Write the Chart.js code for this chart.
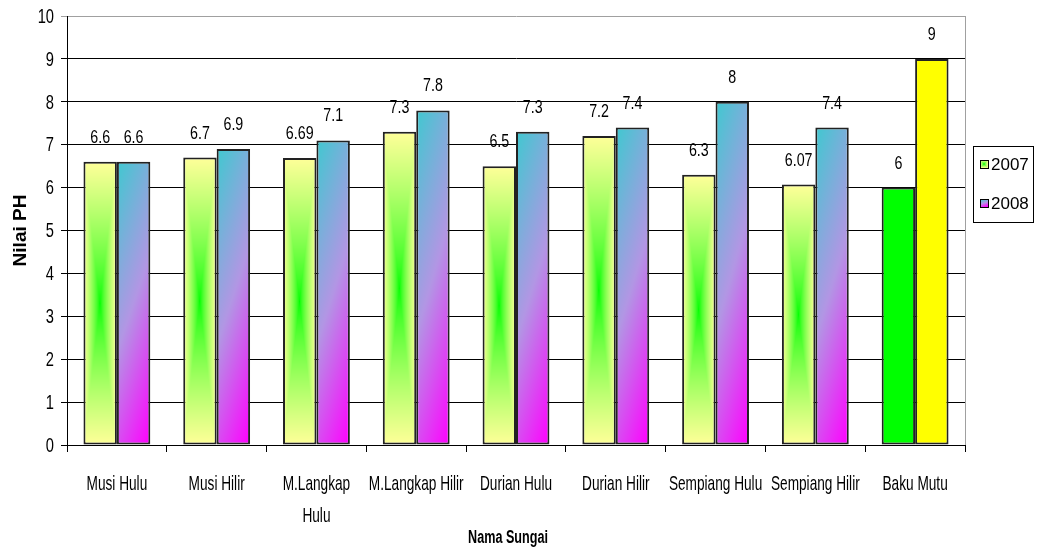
<!DOCTYPE html>
<html>
<head>
<meta charset="utf-8">
<title>Nilai PH Sungai</title>
<script src="https://cdn.jsdelivr.net/npm/chart.js@4.4.1/dist/chart.umd.min.js"></script>
<style>
  html, body { margin: 0; padding: 0; background: #fff; }
  #phChart { display: block; }
</style>
</head>
<body>
<canvas id="phChart" width="1037" height="554"></canvas>
<script>
// ==================== DATA ====================
const rivers = ['Musi Hulu', 'Musi Hilir', ['M.Langkap', 'Hulu'], 'M.Langkap Hilir', 'Durian Hulu',
                'Durian Hilir', 'Sempiang Hulu', 'Sempiang Hilir', 'Baku Mutu'];
const seriesNames = ['2007', '2008'];
const ph2007 = [6.6, 6.7, 6.69, 7.3, 6.5, 7.2, 6.3, 6.07, 6];
const ph2008 = [6.6, 6.9, 7.1, 7.8, 7.3, 7.4, 8, 7.4, 9];
const yTicks = [0, 1, 2, 3, 4, 5, 6, 7, 8, 9, 10];

const BAKU_INDEX = rivers.length - 1;   // the standard ("Baku Mutu") group gets flat colours
const CAT_PCT = 0.67;
const SANS = '"Liberation Sans", Arial, sans-serif';

// ==================== TEXT HELPER ====================
// no narrow face installed, so squeeze the regular one horizontally
function narrowText(c, text, x, y, font, sx, align, baseline) {
    c.save();
    c.translate(x, y);
    c.scale(sx, 1);
    c.font = font;
    c.fillStyle = '#000';
    c.textAlign = align || 'center';
    c.textBaseline = baseline || 'alphabetic';
    c.fillText(text, 0, 0);
    c.restore();
}

// ==================== FILL HELPERS ====================
function mix(a, b, t) {
    return [0, 1, 2].map(i => Math.round(a[i] + (b[i] - a[i]) * t));
}

// 2007: green in the middle fading out to pale yellow towards every edge
function paintCenter(w, h) {
    const green = [0, 255, 0], yellow = [255, 255, 153];
    const c = document.createElement('canvas');
    c.width = w; c.height = h;
    const g = c.getContext('2d');
    const img = g.createImageData(w, h);
    for (let y = 0; y < h; y++) {
        for (let x = 0; x < w; x++) {
            const dx = Math.abs((x + 0.5) - w / 2) / (w / 2);
            const dy = Math.abs((y + 0.5) - h / 2) / (h / 2);
            const t = Math.pow(Math.max(dx, dy), 0.75);
            const col = mix(green, yellow, t);
            const k = (y * w + x) * 4;
            img.data[k] = col[0]; img.data[k + 1] = col[1]; img.data[k + 2] = col[2]; img.data[k + 3] = 255;
        }
    }
    g.putImageData(img, 0, 0);
    return c;
}

// 2008: cyan at the top going to magenta at the bottom right
function paintDiagonal(w, h) {
    const cyan = [64, 200, 208], lilac = [178, 150, 228], magenta = [255, 0, 255];
    const c = document.createElement('canvas');
    c.width = w; c.height = h;
    const g = c.getContext('2d');
    const img = g.createImageData(w, h);
    for (let y = 0; y < h; y++) {
        for (let x = 0; x < w; x++) {
            const t = 0.75 * (y / Math.max(1, h - 1)) + 0.25 * (x / Math.max(1, w - 1));
            const col = t < 0.5 ? mix(cyan, lilac, t / 0.5) : mix(lilac, magenta, (t - 0.5) / 0.5);
            const k = (y * w + x) * 4;
            img.data[k] = col[0]; img.data[k + 1] = col[1]; img.data[k + 2] = col[2]; img.data[k + 3] = 255;
        }
    }
    g.putImageData(img, 0, 0);
    return c;
}

const fillCache = {};
function fillCanvas(kind, w, h) {
    const key = kind + ':' + w + 'x' + h;
    if (!fillCache[key]) fillCache[key] = kind === 'center' ? paintCenter(w, h) : paintDiagonal(w, h);
    return fillCache[key];
}

// rectangle of one bar, worked out from the scales (layout is done before options resolve)
function barBox(ctx) {
    const chart = ctx.chart;
    const xs = chart.scales.x, ys = chart.scales.y;
    if (!chart.chartArea || !xs || !ys) return null;
    const catW = xs.width / rivers.length;
    const barW = catW * CAT_PCT / 2;
    const cx = xs.getPixelForValue(ctx.dataIndex);
    const left = cx - barW + ctx.datasetIndex * barW;
    const value = ctx.dataset.data[ctx.dataIndex];
    const top = ys.getPixelForValue(value);
    const base = ys.getPixelForValue(0);
    return { left, top, w: Math.max(1, Math.round(barW)), h: Math.max(1, Math.round(base - top)) };
}

function patternFor(ctx, kind) {
    const box = barBox(ctx);
    if (!box) return null;
    const pat = ctx.chart.ctx.createPattern(fillCanvas(kind, box.w, box.h), 'no-repeat');
    pat.setTransform(new DOMMatrix().translate(box.left, box.top));
    return pat;
}

function fill2007(ctx) {
    if (ctx.type !== 'data') return '#ffff99';
    if (ctx.dataIndex === BAKU_INDEX) return '#00ff00';
    return patternFor(ctx, 'center') || '#ffff99';
}

function fill2008(ctx) {
    if (ctx.type !== 'data') return '#b496e4';
    if (ctx.dataIndex === BAKU_INDEX) return '#ffff00';
    return patternFor(ctx, 'diagonal') || '#b496e4';
}

// ==================== PLUGINS ====================
// value written above every bar
const barLabels = {
    id: 'barLabels',
    afterDatasetsDraw(chart) {
        const c = chart.ctx;
        chart.data.datasets.forEach((ds, di) => {
            chart.getDatasetMeta(di).data.forEach((bar, i) => {
                narrowText(c, String(ds.data[i]), bar.x, bar.y - 19, '19px ' + SANS, 0.75);
            });
        });
    }
};

// tick numbers, category names (two lines where needed) and the x axis title
const axisText = {
    id: 'axisText',
    afterDraw(chart) {
        const c = chart.ctx;
        const xs = chart.scales.x, ys = chart.scales.y;
        const area = chart.chartArea;
        ys.ticks.forEach(t => {
            narrowText(c, String(t.value), ys.right - 13, ys.getPixelForValue(t.value) + 1,
                       '21px ' + SANS, 0.7, 'right', 'middle');
        });
        rivers.forEach((lab, i) => {
            const lines = Array.isArray(lab) ? lab : [lab];
            lines.forEach((ln, k) => {
                narrowText(c, ln, xs.getPixelForValue(i), xs.top + 45 + k * 32, '21px ' + SANS, 0.65);
            });
        });
        narrowText(c, 'Nama Sungai', (area.left + area.right) / 2 - 8, xs.top + 98, 'bold 18px ' + SANS, 0.7);
    }
};

// grey line closing the plot on the right
const plotFrame = {
    id: 'plotFrame',
    afterDraw(chart) {
        const { top, bottom, right } = chart.chartArea;
        const c = chart.ctx;
        c.save();
        c.strokeStyle = '#a0a0a0';
        c.lineWidth = 1;
        c.beginPath();
        c.moveTo(Math.round(right) + 0.5, top);
        c.lineTo(Math.round(right) + 0.5, bottom);
        c.stroke();
        c.restore();
    }
};

// boxed legend on the right
const boxLegend = {
    id: 'boxLegend',
    afterDraw(chart) {
        const c = chart.ctx;
        const x0 = chart.chartArea.right + 8, y0 = 146, w = 60, h = 76;
        c.save();
        c.strokeStyle = '#000';
        c.lineWidth = 1;
        c.strokeRect(x0 + 0.5, y0 + 0.5, w, h);
        c.font = '17px ' + SANS;
        c.fillStyle = '#000';
        c.textBaseline = 'middle';
        seriesNames.forEach((name, i) => {
            const cy = y0 + 18 + i * 39;
            const sw = fillCanvas(i === 0 ? 'center' : 'diagonal', 8, 8);
            c.drawImage(sw, x0 + 7, cy - 4);
            c.strokeRect(x0 + 7.5, cy - 3.5, 8, 8);
            c.fillText(name, x0 + 18, cy + 1);
        });
        c.restore();
    }
};

// ==================== CHART ====================
const barStyle = {
    borderColor: '#222',
    borderWidth: 2,
    borderSkipped: false,
    categoryPercentage: CAT_PCT,
    barPercentage: 1
};

new Chart(document.getElementById('phChart'), {
    type: 'bar',
    data: {
        labels: rivers,
        datasets: [
            { label: seriesNames[0], data: ph2007, backgroundColor: fill2007, ...barStyle },
            { label: seriesNames[1], data: ph2008, backgroundColor: fill2008, ...barStyle }
        ]
    },
    options: {
        responsive: false,
        animation: false,
        devicePixelRatio: 1,
        layout: { padding: { top: 16, right: 72, left: 0, bottom: 0 } },
        plugins: {
            legend: { display: false },
            tooltip: { enabled: false }
        },
        scales: {
            x: {
                afterFit: s => { s.height = 109; },
                grid: { drawOnChartArea: false, drawTicks: true, tickLength: 7, color: '#000', offset: true },
                border: { color: '#000', width: 1 },
                ticks: { color: 'rgba(0,0,0,0)', maxRotation: 0, autoSkip: false }
            },
            y: {
                min: yTicks[0],
                max: yTicks[yTicks.length - 1],
                afterFit: s => { s.width = 67; },
                afterBuildTicks: s => { s.ticks = yTicks.map(v => ({ value: v })); },
                grid: {
                    color: c => c.tick && c.tick.value === 10 ? '#a0a0a0' : '#000',
                    tickLength: 6,
                    lineWidth: 1
                },
                border: { color: '#000', width: 1 },
                ticks: { font: { family: SANS, size: 16 }, color: 'rgba(0,0,0,0)', padding: 5 },
                title: {
                    display: true,
                    text: 'Nilai PH',
                    font: { family: SANS, size: 19, weight: 'bold' },
                    color: '#000',
                    padding: { top: 9 }
                }
            }
        }
    },
    plugins: [barLabels, axisText, plotFrame, boxLegend]
});
</script>
</body>
</html>
